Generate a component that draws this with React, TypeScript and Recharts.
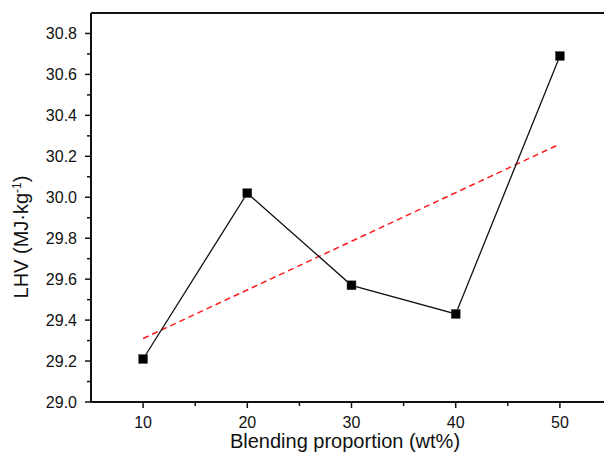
import { LineChart, Line, XAxis, YAxis, ReferenceLine } from "recharts";

// values
const proportions = [10, 20, 30, 40, 50];
const lhv = [29.21, 30.02, 29.57, 29.43, 30.69];
// linear fit, read at both ends
const fitStart = 29.31;
const fitEnd = 30.26;

const yTicks = [29.0, 29.1, 29.2, 29.3, 29.4, 29.5, 29.6, 29.7, 29.8, 29.9, 30.0, 30.1, 30.2, 30.3, 30.4, 30.5, 30.6, 30.7, 30.8];
const yMajor = [29.0, 29.2, 29.4, 29.6, 29.8, 30.0, 30.2, 30.4, 30.6, 30.8];
const xTicks = [10, 15, 20, 25, 30, 35, 40, 45, 50];
const xMajor = [10, 20, 30, 40, 50];

const rows = proportions.map((p, i) => ({
    x: p,
    lhv: lhv[i],
    fit: i === 0 ? fitStart : i === proportions.length - 1 ? fitEnd : null,
}));

const FONT = "'Liberation Sans', Arial, sans-serif";
const INK = "#111";

const isMajor = (list: number[], v: number) => list.some((m) => Math.abs(m - v) < 1e-6);

function YTick(props: any) {
    const { x, y, payload } = props;
    const ax = x + 14; // tickSize 6 + tickMargin 8
    const major = isMajor(yMajor, payload.value);
    return (
        <g>
            <line x1={ax} x2={ax - (major ? 6 : 4)} y1={y} y2={y} stroke={INK} strokeWidth={1.5} />
            {major && (
                <text x={x} y={y} dy="0.35em" textAnchor="end" fontSize={16} fontFamily={FONT} fill={INK}>
                    {payload.value.toFixed(1)}
                </text>
            )}
        </g>
    );
}

function XTick(props: any) {
    const { x, y, payload } = props;
    const ay = y - 15; // tickSize 6 + tickMargin 9
    const major = isMajor(xMajor, payload.value);
    return (
        <g>
            <line x1={x} x2={x} y1={ay} y2={ay + (major ? 6 : 4)} stroke={INK} strokeWidth={1.5} />
            {major && (
                <text x={x} y={y} dy="0.71em" textAnchor="middle" fontSize={16} fontFamily={FONT} fill={INK}>
                    {payload.value}
                </text>
            )}
        </g>
    );
}

function SquareDot(props: any) {
    const { cx, cy } = props;
    if (typeof cx !== "number" || typeof cy !== "number") return null;
    return <rect x={cx - 4.5} y={cy - 4.5} width={9} height={9} fill="#000" stroke="#555" strokeWidth={0.5} />;
}

function YLabel() {
    return (
        <text transform="translate(28,237) rotate(-90)" textAnchor="middle" fontSize={20} fontFamily={FONT} fill={INK}>
            LHV (MJ·kg
            <tspan dy={-7} fontSize={12}>-1</tspan>
            <tspan dy={7}>)</tspan>
        </text>
    );
}

function XLabel() {
    return (
        <text x={345} y={448} textAnchor="middle" fontSize={20} fontFamily={FONT} fill={INK}>
            Blending proportion (wt%)
        </text>
    );
}

export default function App() {
    return (
        <div style={{ position: "absolute", left: 0, top: 0, width: 604, height: 454, overflow: "hidden", background: "#fff" }}>
            <LineChart width={630} height={454} data={rows} margin={{ top: 13, right: 18, left: 0, bottom: 0 }}>
                <XAxis
                    dataKey="x"
                    type="number"
                    domain={[5, 55]}
                    ticks={xTicks}
                    allowDataOverflow
                    height={52}
                    tickSize={6}
                    tickMargin={9}
                    tickLine={false}
                    tick={<XTick />}
                    axisLine={{ stroke: INK, strokeWidth: 2 }}
                    label={<XLabel />}
                />
                <YAxis
                    type="number"
                    domain={[29, 30.9]}
                    ticks={yTicks}
                    allowDataOverflow
                    width={91}
                    tickSize={6}
                    tickMargin={8}
                    tickLine={false}
                    tick={<YTick />}
                    interval={0}
                    axisLine={{ stroke: INK, strokeWidth: 2 }}
                    label={<YLabel />}
                />
                <ReferenceLine y={30.9} stroke={INK} strokeWidth={2} />
                <Line
                    dataKey="fit"
                    stroke="#ff1a1a"
                    strokeWidth={1.5}
                    strokeDasharray="6 4"
                    dot={false}
                    connectNulls
                    isAnimationActive={false}
                />
                <Line
                    dataKey="lhv"
                    stroke="#111"
                    strokeWidth={1.3}
                    dot={<SquareDot />}
                    isAnimationActive={false}
                />
            </LineChart>
        </div>
    );
}
